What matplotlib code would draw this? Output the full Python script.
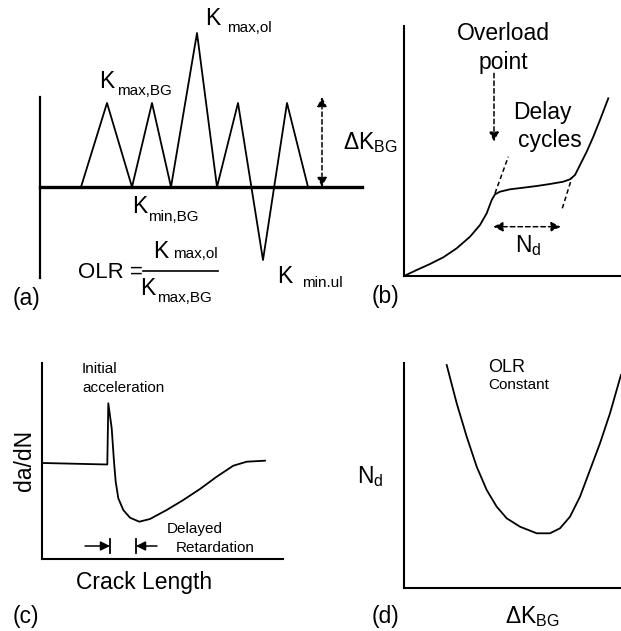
import numpy as np
import matplotlib.pyplot as plt

plt.rcParams['font.family'] = ['Liberation Sans', 'DejaVu Sans']
plt.rcParams['mathtext.fontset'] = 'custom'
plt.rcParams['mathtext.rm'] = 'Liberation Sans'
plt.rcParams['mathtext.it'] = 'Liberation Sans'

# (a) load history: background cycles, one overload, one underload
cycle_x = [41, 67, 92, 112, 131, 157, 177, 198, 223, 247, 268]
cycle_k = [0, 84, 0, 84, 0, 154, 0, 84, -73, 84, 0]

# (b) crack length vs cycles around the overload
cycles_b = [0, 12.7, 26, 39.3, 52.7, 66, 76, 82.7, 87.7, 91, 96, 106, 119.3,
            132.7, 146, 159.3, 166, 171, 176, 182.7, 189.3, 196, 204.3]
crack_b = [0, 6, 12, 18.7, 27.7, 39.3, 51, 62.7, 76, 81.7, 84.3, 86.7, 88.3,
           90, 92, 94.3, 96.7, 101, 111, 124.3, 139.3, 156, 177.7]

# (c) growth rate vs crack length
crack_c = [1, 65.3, 66.3, 69.7, 72, 73.7, 76.3, 81.3, 88, 97.3, 108, 124.7,
           141.3, 158, 174.7, 191.3, 204.7, 223]
rate_c = [96, 94.5, 155.7, 130.7, 97.3, 77.3, 60.7, 49, 41.3, 37.3, 40, 49,
          59, 70, 82.3, 93.3, 97.3, 98.3]

# (d) delay cycles vs background dK at constant OLR
dk_d = [42.7, 52.7, 62.7, 72.7, 82.7, 92.7, 102.7, 116, 132.7, 146, 156, 166,
        176, 186, 196, 206, 216, 217]
nd_d = [223, 184.7, 151.3, 121.3, 98, 81.3, 69.7, 61.3, 54.7, 54.7, 59.7,
        71.3, 91.3, 118, 144.7, 174.7, 209.7, 213]

BIG = 16.5
SUB = 11
SMALL = 11

fig = plt.figure(figsize=(6.21, 6.31), dpi=100)


def box(left, top, width, height):
    # pixel box -> figure fraction
    return [left / 621, (631 - top - height) / 631, width / 621, height / 631]


def frame(ax, w, h):
    ax.set_xlim(0, w)
    ax.set_ylim(0, h)
    ax.set_facecolor('none')
    for s in ['top', 'right']:
        ax.spines[s].set_visible(False)
    for s in ['left', 'bottom']:
        ax.spines[s].set_linewidth(1.5)
    ax.set_xticks([])
    ax.set_yticks([])


def dashed_arrow(ax, p0, p1, style):
    ax.annotate('', xy=p1, xytext=p0,
                arrowprops=dict(arrowstyle=style, ls=(0, (3, 2)), lw=1.1,
                                color='k', shrinkA=0, shrinkB=0,
                                mutation_scale=14))


def k_label(ax, x, y, sub, dx, dy):
    # big K with a separately placed subscript (offsets in points)
    ax.text(x, y, 'K', fontsize=BIG, va='baseline')
    ax.annotate(sub, xy=(x, y), xytext=(dx, dy), textcoords='offset points',
                fontsize=SUB, va='baseline')


# ---- (a) ----
ax = fig.add_axes(box(0, 0, 400, 320))
ax.set_xlim(-40, 360)
ax.set_ylim(-133, 187)
ax.axis('off')
ax.plot([0, 0], [-91, 90], color='k', lw=1.6)
ax.plot([0, 322], [0, 0], color='k', lw=2.4)
ax.plot(cycle_x, cycle_k, color='k', lw=1.3)
dashed_arrow(ax, (282, 0), (282, 90), '<|-|>')
k_label(ax, 165, 162, 'max,ol', 16, -5)
k_label(ax, 59, 99, 'max,BG', 13, -5)
k_label(ax, 92, -26, 'min,BG', 11.5, -5.5)
k_label(ax, 237, -96, 'min.ul', 18, -3)
ax.text(38, -91, 'OLR =', fontsize=16, va='baseline')
ax.plot([103, 178], [-84, -84], color='k', lw=1.2)
k_label(ax, 113, -71, 'max,ol', 14.5, 0)
k_label(ax, 100, -108, 'max,BG', 12, -5)
ax.text(303, 44, r'$\mathrm{\Delta K_{BG}}$', fontsize=BIG, va='center')
ax.text(-27, -111, '(a)', fontsize=BIG, va='center')

# ---- (b) ----
ax = fig.add_axes(box(404, 26, 217, 250))
frame(ax, 217, 250)
ax.plot(cycles_b, crack_b, color='k', lw=1.3, clip_on=False)
ax.plot([91, 104.3], [82.7, 119.3], color='k', lw=1.1, ls=(0, (3, 2)))
ax.plot([158.3, 167.7], [67.7, 97.7], color='k', lw=1.1, ls=(0, (3, 2)))
dashed_arrow(ax, (90, 202.7), (90, 134.3), '-|>')
dashed_arrow(ax, (89.3, 49.3), (156.7, 49.3), '<|-|>')
ax.text(99.3, 243, 'Overload', fontsize=BIG, ha='center', va='center')
ax.text(99.3, 214, 'point', fontsize=BIG, ha='center', va='center')
ax.text(138, 164, 'Delay', fontsize=BIG, ha='center', va='center')
ax.text(146, 136, 'cycles', fontsize=BIG, ha='center', va='center')
ax.text(111, 30, r'$\mathrm{N_d}$', fontsize=BIG, va='center')
ax.text(-32, -21, '(b)', fontsize=BIG, va='center')

# ---- (c) ----
ax = fig.add_axes(box(42, 363, 241, 196))
frame(ax, 241, 196)
ax.plot(crack_c, rate_c, color='k', lw=1.3)
ax.annotate('', xy=(68, 13), xytext=(43, 13),
            arrowprops=dict(arrowstyle='-|>', lw=1.1, color='k',
                            shrinkA=0, shrinkB=0, mutation_scale=14))
ax.annotate('', xy=(94, 13), xytext=(115, 13),
            arrowprops=dict(arrowstyle='-|>', lw=1.1, color='k',
                            shrinkA=0, shrinkB=0, mutation_scale=14))
ax.plot([68, 68], [6, 20], color='k', lw=1.3)
ax.plot([94, 94], [6, 20], color='k', lw=1.3)
ax.text(40, 190, 'Initial', fontsize=SMALL, va='center')
ax.text(40, 171, 'acceleration', fontsize=SMALL, va='center')
ax.text(125, 30, 'Delayed', fontsize=SMALL, va='center')
ax.text(134, 11, 'Retardation', fontsize=SMALL, va='center')
ax.text(-17, 99, 'da/dN', fontsize=BIG, rotation=90, ha='center', va='center')
ax.text(102, -24, 'Crack Length', fontsize=BIG, ha='center', va='center')
ax.text(-29, -58, '(c)', fontsize=BIG, va='center')

# ---- (d) ----
ax = fig.add_axes(box(404, 363, 217, 225))
frame(ax, 217, 225)
ax.plot(dk_d, nd_d, color='k', lw=1.3, clip_on=False)
ax.text(84, 221, 'OLR', fontsize=13, va='center')
ax.text(84, 203, 'Constant', fontsize=SMALL, va='center')
ax.text(-47, 111, r'$\mathrm{N_d}$', fontsize=BIG, va='center')
ax.text(-32, -29, '(d)', fontsize=BIG, va='center')
ax.text(101, -29, r'$\mathrm{\Delta K_{BG}}$', fontsize=BIG, va='center')

fig.savefig('out.png', dpi=100)
